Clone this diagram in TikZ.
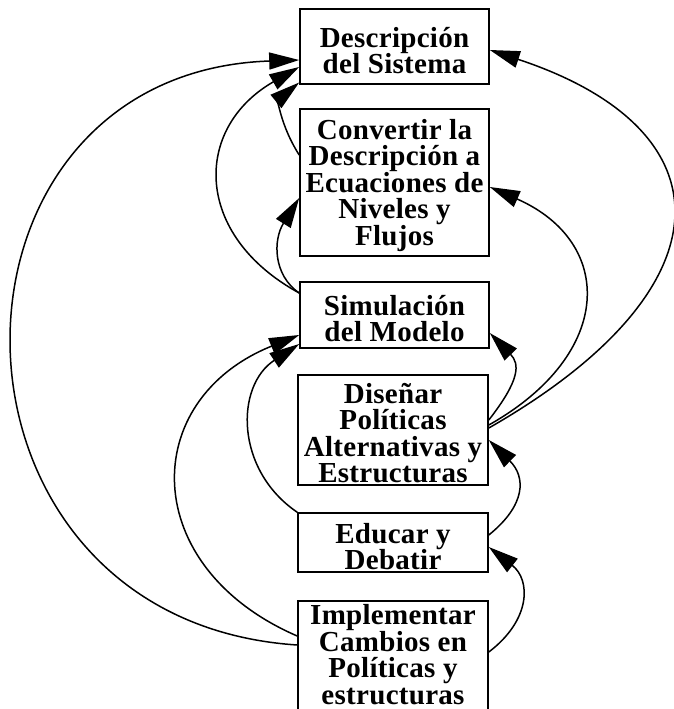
\documentclass[tikz,border=0pt]{standalone}
\usepackage{fontspec}
\setmainfont{Liberation Serif}[LetterSpace=1]
\usetikzlibrary{arrows.meta}
\begin{document}
\begin{tikzpicture}[x=1pt,y=-1pt,
  box/.style={draw,line width=1.6pt,rectangle,inner sep=0pt},
  txt/.style={inner sep=0pt,align=center,
    font=\bfseries\fontsize{29}{26.5}\selectfont},
  arr/.style={line width=1.5pt,-{Triangle[length=30pt,width=17pt]}}]
\useasboundingbox (0,0) rectangle (673,709);
\node[box,minimum width=189pt,minimum height=75pt] (desc) at (394.5,46.5) {};
\node[txt] (desct) at ([yshift=-4pt]desc.center) {Descripción\\del Sistema};
\node[box,minimum width=189pt,minimum height=147pt] (conv) at (394.5,182.5) {};
\node[txt] (convt) at ([yshift=-3pt]conv.center) {Convertir la\\Descripción a\\Ecuaciones de\\Niveles y\\Flujos};
\node[box,minimum width=189pt,minimum height=66pt] (sim) at (394.5,315) {};
\node[txt] (simt) at ([yshift=-3.5pt]sim.center) {Simulación\\del Modelo};
\node[box,minimum width=190pt,minimum height=110pt] (dis) at (393,430) {};
\node[txt] (dist) at ([yshift=-3pt]dis.center) {Diseñar\\Políticas\\Alternativas y\\Estructuras};
\node[box,minimum width=190pt,minimum height=59pt] (edu) at (393,542.5) {};
\node[txt] (edut) at ([yshift=-4pt]edu.center) {Educar y\\Debatir};
\node[box,minimum width=190pt,minimum height=109pt] (impl) at (393,655.5) {};
\node[txt] (implt) at ([yshift=1pt]impl.center) {Implementar\\Cambios en\\Políticas y\\estructuras};
% left side
\draw[arr] ([yshift=10.5pt]impl.west) .. controls (-81,620) and (-81,73) .. ([yshift=-13.5pt]desc.west);
\draw[arr] ([yshift=19.5pt]impl.west) .. controls (138,567) and (138,400) .. ([yshift=-20pt]sim.west);
\draw[arr] (edu.north west) .. controls (235,470) and (235,386) .. ([yshift=-29pt]sim.west);
\draw[arr] ([yshift=22pt]sim.west) .. controls (193,235) and (193,128) .. ([yshift=-20.5pt]desc.west);
\draw[arr] ([yshift=22pt]sim.west) .. controls (273,275) and (273,240) .. ([yshift=-15.5pt]conv.west);
\draw[arr] ([yshift=27.5pt]conv.west) .. controls (279,123) and (279,99) .. ([yshift=-36pt]desc.west);
% right side
\draw[arr] ([yshift=2pt]dis.east) .. controls (732,289) and (732,130) .. ([yshift=-3.5pt]desc.east);
\draw[arr] ([yshift=5pt]dis.east) .. controls (615,354) and (615,242) .. ([yshift=-4.5pt]conv.east);
\draw[arr] ([yshift=10pt]dis.east) .. controls (520,380) and (520,364) .. ([yshift=-18pt]sim.east);
\draw[arr] ([yshift=7.5pt]edu.east) .. controls (526,505) and (526,477) .. ([yshift=-10pt]dis.east);
\draw[arr] ([yshift=3.5pt]impl.east) .. controls (531,620) and (531,580) .. ([yshift=-4.5pt]edu.east);
\end{tikzpicture}
\end{document}
